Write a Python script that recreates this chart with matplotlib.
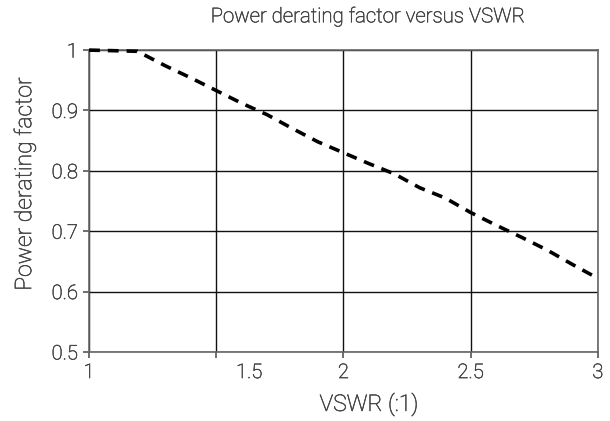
import matplotlib
matplotlib.use('Agg')
import matplotlib.pyplot as plt
import matplotlib.transforms as mtransforms
import matplotlib.patheffects as pe

vswr = [1.0, 1.1, 1.19, 1.3, 1.4, 1.5, 1.6, 1.7, 1.8, 1.9, 2.0,
        2.1, 2.2, 2.3, 2.4, 2.5, 2.6, 2.7, 2.8, 2.9, 3.0]
factor = [1.0, 0.999, 0.998, 0.974, 0.954, 0.933, 0.912, 0.893, 0.870, 0.848, 0.830,
          0.812, 0.795, 0.772, 0.755, 0.731, 0.710, 0.690, 0.669, 0.645, 0.622]

xticks = [1, 1.5, 2, 2.5, 3]
xlabels = ['1', '1.5', '2', '2.5', '3']
yticks = [0.5, 0.6, 0.7, 0.8, 0.9, 1.0]
ylabels = ['0.5', '0.6', '0.7', '0.8', '0.9', '1']

plt.rcParams['font.family'] = ['Roboto', 'DejaVu Sans']
txtcol = '#454545'
wt = 'light'
thick = [pe.withStroke(linewidth=0.4, foreground=txtcol)]

fig = plt.figure(figsize=(6.10, 4.21), dpi=100)
ax = fig.add_axes([0.146, 0.164, 0.834, 0.717])

ax.plot(vswr, factor, color='black', lw=2.6, dashes=(3.0, 2.2), zorder=3, clip_on=False)

ax.set_xlim(1, 3)
ax.set_ylim(0.5, 1.0)
ax.set_xticks(xticks)
ax.set_xticklabels(xlabels)
ax.set_yticks(yticks)
ax.set_yticklabels(ylabels)
ax.grid(True, color='#111111', lw=1.0)
ax.set_axisbelow(True)

for s in ax.spines.values():
  s.set_color('#666666')
  s.set_linewidth(1.2)

ax.tick_params(axis='both', direction='out', length=4, width=1.2, color='#555555',
               labelsize=14.5, labelcolor=txtcol, pad=4)
for lab in ax.get_xticklabels() + ax.get_yticklabels():
  lab.set_fontweight(wt)
  lab.set_path_effects(thick)

# the 1.5 label sits a bit right of its gridline in the original
lab15 = ax.get_xticklabels()[1]
lab15.set_transform(lab15.get_transform() + mtransforms.ScaledTranslation(0.33, 0, fig.dpi_scale_trans))

ax.set_xlabel('VSWR (:1)', fontsize=16.5, color=txtcol, fontweight=wt, path_effects=thick)
ax.xaxis.set_label_coords(0.55, -0.132)
ax.set_ylabel('Power derating factor', fontsize=16.5, color=txtcol, fontweight=wt, path_effects=thick)
ax.yaxis.set_label_coords(-0.104, 0.556)
ax.set_title('Power derating factor versus VSWR', fontsize=14.7, color=txtcol,
             fontweight=wt, pad=20, x=0.548, path_effects=thick)

fig.savefig('out.png', dpi=100)
